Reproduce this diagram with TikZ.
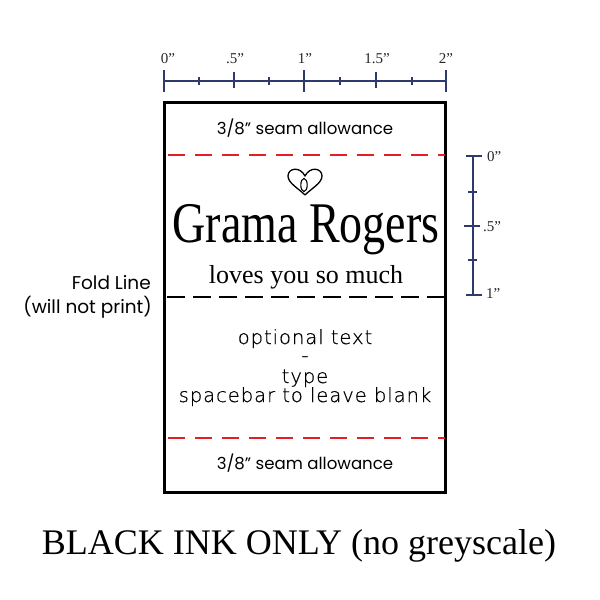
\documentclass[tikz,border=0pt]{standalone}
\usepackage{fontspec}
\setmainfont{Liberation Serif}
\newfontfamily\pop{Poppins}
\newfontfamily\thinf{DejaVu Sans ExtraLight}[LetterSpace=5,FakeBold=0.6]
\definecolor{ruler}{HTML}{2E3A6E}
\definecolor{seam}{HTML}{E31E24}
\tikzset{
  rul/.style={draw=ruler, line width=1.2pt},
  rlab/.style={font=\fontsize{15}{15}\selectfont, text=black!85, inner sep=0pt},
  seamline/.style={draw=seam, line width=2pt, dash pattern=on 17pt off 10pt, dash phase=-4pt},
  foldline/.style={draw=black, line width=2.5pt, dash pattern=on 18pt off 8pt, dash phase=-3pt},
  seamtxt/.style={font=\pop\fontsize{16.6}{16.6}\selectfont, inner sep=0pt},
  foldtxt/.style={font=\pop\fontsize{18.5}{18.5}\selectfont, inner sep=0pt, anchor=east},
  opttxt/.style={font=\thinf\fontsize{19.5}{19}\selectfont, inner sep=0pt, text=black, align=center},
  labelbox/.style={draw=black, line width=3pt},
}
\begin{document}
\begin{tikzpicture}[x=1pt,y=-1pt]
\useasboundingbox (0,0) rectangle (600,600);
% top ruler
\coordinate (h0) at (164,81);
\coordinate (h4) at (446,81);
\draw[rul] (h0) -- (h4);
\foreach \x in {164,304,446} \draw[rul] (\x,70) -- (\x,92);
\foreach \x in {234,376} \draw[rul] (\x,72) -- (\x,88);
\foreach \x in {199,269,340,412} \draw[rul] (\x,77) -- (\x,85);
\node[rlab] (l0) at (168,59) {0”};
\node[rlab] (l5) at (235,59) {.5”};
\node[rlab] (l1) at (305,59) {1”};
\node[rlab] (l15) at (377,59) {1.5”};
\node[rlab] (l2) at (446,59) {2”};
% right ruler
\coordinate (v0) at (473,156);
\coordinate (v2) at (473,295);
\draw[rul] (v0) -- (v2);
\foreach \y in {156,295} \draw[rul] (466,\y) -- (482,\y);
\draw[rul] (464,226) -- (480,226);
\foreach \y in {192,260} \draw[rul] (468,\y) -- (477,\y);
\node[rlab, anchor=west] (r0) at (487,157) {0”};
\node[rlab, anchor=west] (r5) at (483,227) {.5”};
\node[rlab, anchor=west] (r1) at (486,294) {1”};
% label box
\draw[labelbox] (164,102) rectangle (445,492);
\coordinate (sa) at (164,155); \coordinate (sb) at (445,155);
\draw[seamline] (sa) -- (sb);
\coordinate (sc) at (164,438); \coordinate (sd) at (445,438);
\draw[seamline] (sc) -- (sd);
\coordinate (fa) at (164,297); \coordinate (fb) at (445,297);
\draw[foldline] (fa) -- (fb);
\node[seamtxt] (stop) at (305,128) {3/8” seam allowance};
\node[seamtxt] (sbot) at (305,463) {3/8” seam allowance};
% heart
\draw[line width=1.3pt, line join=round]
  (305,195) .. controls (298,188) and (288,183) .. (288,176)
  .. controls (288,168) and (300,166) .. (305,176)
  .. controls (310,166) and (322,168) .. (322,176)
  .. controls (322,183) and (312,188) .. (305,195);
\draw[line width=1.1pt] (304,185) ellipse [x radius=3.2, y radius=6.5];
\node[font=\fontsize{46}{46}\selectfont, inner sep=0pt, anchor=base, yscale=1.25, transform shape] (name) at (306,242) {Grama Rogers};
\node[font=\fontsize{26}{26}\selectfont, inner sep=0pt, anchor=base] (loves) at (306,283) {loves you so much};
\node[foldtxt] (fold1) at (151,283) {Fold Line};
\node[foldtxt] (fold2) at (152,307) {(will not print)};
\node[opttxt, anchor=base] (opt) at (305,402) {optional text\\[-1pt] -\\[2pt] type\\ spacebar to leave blank};
\node[font=\fontsize{36}{36}\selectfont, inner sep=0pt] (ink) at (299,546) {BLACK INK ONLY (no greyscale)};
\end{tikzpicture}
\end{document}
